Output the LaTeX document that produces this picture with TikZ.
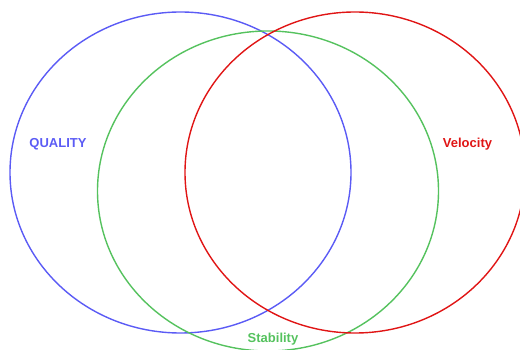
\documentclass[tikz,border=0pt]{standalone}
\usepackage{fontspec}
\setmainfont{Liberation Sans}
\definecolor{cblue}{HTML}{5B5BF5}
\definecolor{cgreen}{HTML}{55C25E}
\definecolor{cred}{HTML}{E01515}
\begin{document}
\begin{tikzpicture}[x=1pt,y=-1pt,
  ring/.style={line width=1.4pt},
  lab/.style={font=\fontsize{13}{15}\selectfont\bfseries, inner sep=0pt}]
\useasboundingbox (0,0) rectangle (520,350);
\clip (0,0) rectangle (520,350);
\draw[ring, cblue] (180.5,172.5) ellipse [x radius=170.5, y radius=160.5];
\draw[ring, cgreen] (268,191) ellipse [x radius=170.5, y radius=160];
\draw[ring, cred] (355,172.5) ellipse [x radius=170, y radius=160.5];
\node[lab, text=cblue] (q) at (58,144) {QUALITY};
\node[lab, text=cred] (v) at (467.5,144) {Velocity};
\node[lab, text=cgreen] (s) at (273,339) {Stability};
\end{tikzpicture}
\end{document}
